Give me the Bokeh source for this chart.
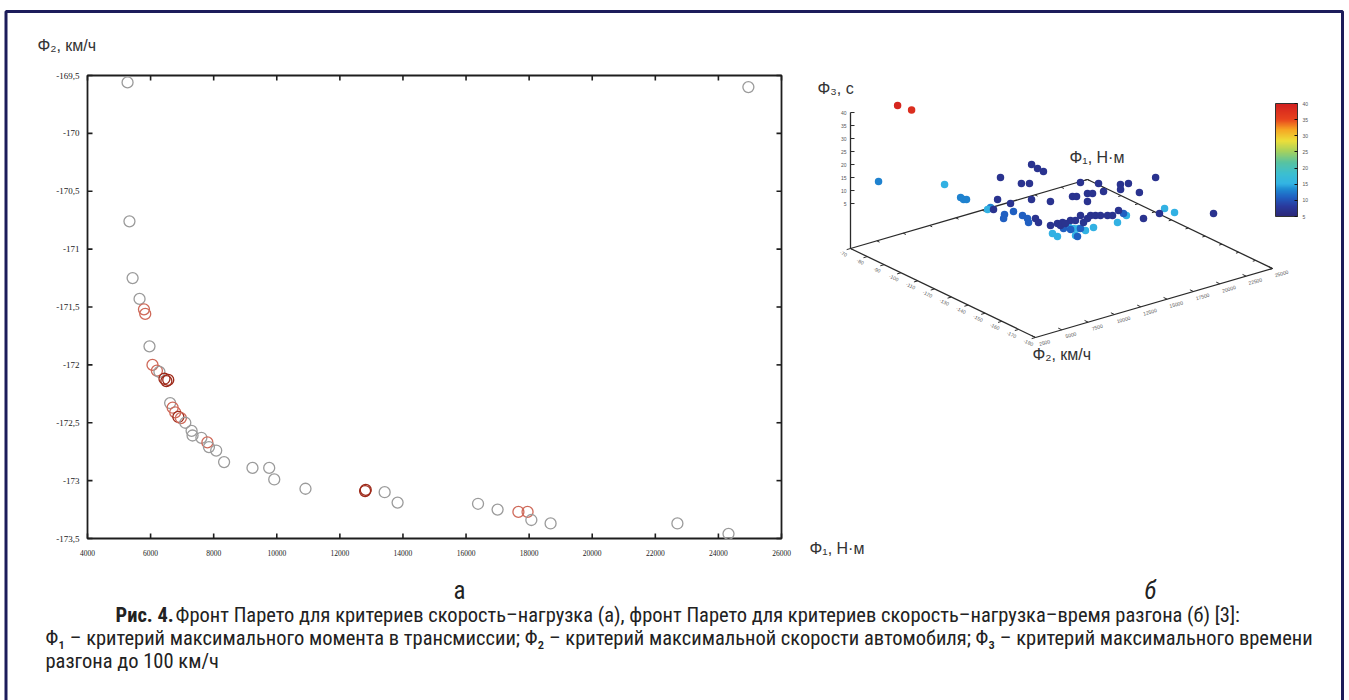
import numpy as np
from bokeh.plotting import figure
from bokeh.models import Range1d, LinearColorMapper, ColorBar, FixedTicker, ColumnDataSource
from bokeh.core.properties import value
from bokeh.embed import file_html
from bokeh.resources import INLINE

W, H = 1349, 700
SANS = "Liberation Sans"
NARROW = "Liberation Sans Narrow, Roboto Condensed, Roboto"
SERIF = "Liberation Serif"

# ---------------- panel (a): Pareto front speed-load ----------------
a_phi1 = [5270, 24950, 5330, 5430, 5650, 5790, 5830, 5965, 6060, 6200, 6280,
          6440, 6500, 6560, 6620, 6700, 6780, 6880, 6960, 7100, 7300, 7330,
          7610, 7800, 7850, 8080, 8330, 9230, 9760, 9920, 10910, 12800, 12820,
          13420, 13830, 16380, 17000, 17660, 17950, 18070, 18680, 22700, 24320]
a_phi2 = [-169.56, -169.60, -170.76, -171.25, -171.43, -171.52, -171.56, -171.84,
          -172.00, -172.05, -172.06, -172.12, -172.14, -172.13, -172.33, -172.37,
          -172.41, -172.45, -172.46, -172.50, -172.57, -172.61, -172.63, -172.67,
          -172.71, -172.74, -172.84, -172.89, -172.89, -172.99, -173.07, -173.09,
          -173.08, -173.10, -173.19, -173.20, -173.25, -173.27, -173.27, -173.34,
          -173.37, -173.37, -173.46]
a_tone = ["g", "g", "g", "g", "g", "r", "r", "g", "r", "r", "g",
          "d", "d", "d", "g", "r", "r", "d", "r", "g", "g", "g",
          "g", "r", "g", "g", "g", "g", "g", "g", "g", "d", "d",
          "g", "g", "g", "g", "r", "r", "g", "g", "g", "g"]
a_xticks = [4000, 6000, 8000, 10000, 12000, 14000, 16000, 18000, 20000, 22000, 24000, 26000]
a_xlabels = ["4000", "6000", "8000", "10000", "12000", "14000", "16000", "18000",
             "20000", "22000", "24000", "26000"]
a_yticks = [-169.5, -170, -170.5, -171, -171.5, -172, -172.5, -173, -173.5]
a_ylabels = ["-169,5", "-170", "-170,5", "-171", "-171,5", "-172", "-172,5", "-173", "-173,5"]

# ---------------- panel (b): 3-criteria Pareto front ----------------
b_phi1 = [6460, 7070,
          4300, 7190, 7120, 7300, 7730,
          6670, 7200, 7560, 7490, 9710, 9370, 9420, 8680, 10720, 12760, 14150, 17260, 17360, 9880,
          8340, 7790, 9240, 9280, 9210, 8770, 10110, 10400, 9950, 15500, 11110,
          9580, 11050, 13930, 11320, 14430, 14910, 17360, 17220, 17210, 13060, 10960, 10640,
          13930, 10980, 11640, 12060, 18040, 15850, 16090, 13300, 14030, 17110, 18990, 17400,
          16120, 18300, 20160, 20760, 19550, 20300, 23100, 16850, 13990, 14580, 14870, 15170,
          15580, 15880, 12780, 13080, 11580, 12120, 17350, 18900, 22100]
b_phi2 = [-73.2, -77.7,
          -75.4, -106.1, -108.3, -108.9, -120.5,
          -125.4, -96.5, -158.4, -161.8, -160.4, -156.6, -159.3, -165.1, -163.0, -164.5, -161.1, -164.3, -169.6, -163.5,
          -125.0, -127.9, -124.7, -129.8, -133.2, -136.6, -149.0, -151.4, -158.3, -150.9, -152.8,
          -110.7, -103.9, -87.6, -109.9, -96.9, -98.7, -84.6, -89.0, -92.6, -111.5, -127.0, -130.8,
          -117.3, -135.8, -135.8, -136.2, -109.4, -118.4, -119.3, -140.9, -138.7, -119.4, -114.2, -120.6,
          -125.6, -121.5, -119.9, -120.9, -123.8, -130.3, -122.4, -139.5, -134.8, -137.1, -138.2, -139.3,
          -140.9, -142.0, -136.4, -137.5, -138.0, -137.6, -151.2, -151.0, -163.1]
b_phi3 = [39, 38,
          13, 13, 13, 13, 13,
          15, 15, 15, 15, 15, 15, 15, 15, 15, 15, 15, 15, 15, 15,
          11, 11, 11, 11, 11, 11, 11, 11, 11, 11, 11,
          7, 7, 7, 7, 7, 7, 7, 7, 7, 7, 7, 7,
          7, 7, 7, 7, 7, 7, 7, 7, 7, 7, 7, 7,
          7, 7, 7, 7, 7, 7, 7, 7, 7, 7, 7, 7,
          7, 7, 7, 7, 7, 7, 7, 7, 7]
b_phi1_ticks = [2500, 5000, 7500, 10000, 12500, 15000, 17500, 20000, 22500, 25000]
b_phi2_ticks = [-70, -80, -90, -100, -110, -120, -130, -140, -150, -160, -170, -180]
b_phi3_ticks = [5, 10, 15, 20, 25, 30, 35, 40]
cbar_ticks = [5, 10, 15, 20, 25, 30, 35, 40]

caption_bold = "Рис. 4."
caption_1 = "Фронт Парето для критериев скорость–нагрузка (а), фронт Парето для критериев скорость–нагрузка–время разгона (б) [3]:"
caption_2 = "Φ₁ – критерий максимального момента в трансмиссии; Φ₂ – критерий максимальной скорости автомобиля; Φ₃ – критерий максимального времени"
caption_3 = "разгона до 100 км/ч"

# ---------------- figure (pixel canvas) ----------------
p = figure(width=W, height=H, x_range=Range1d(0, W), y_range=Range1d(H, 0),
           output_backend="svg", toolbar_location=None, min_border=0,
           x_axis_location=None, y_axis_location=None)
p.grid.visible = False
p.outline_line_color = None
p.background_fill_color = "white"
p.border_fill_color = "white"

# page frame
p.quad(left=[5.5], right=[1342], top=[11], bottom=[720], fill_color=None,
       line_color="#1d1d5b", line_width=3)

# ---------------- panel (a) ----------------
AL, AR, AT, AB = 87, 781, 75, 538
X0, X1 = a_xticks[0], a_xticks[-1]
Y0, Y1 = a_yticks[-1], a_yticks[0]
kx = (X1 - X0) / (AR - AL)
ky = (Y1 - Y0) / (AB - AT)
p.extra_x_ranges = {"a": Range1d(X0 - AL * kx, X0 + (W - AL) * kx)}
p.extra_y_ranges = {"a": Range1d(Y0 - (H - AB) * ky, Y1 + AT * ky)}
RA = dict(x_range_name="a", y_range_name="a")

p.quad(left=[X0], right=[X1], bottom=[Y0], top=[Y1], fill_color=None,
       line_color="#1e1e1e", line_width=1.8, **RA)
tl = 5
nx, ny = len(a_xticks), len(a_yticks)
p.segment(x0=a_xticks, x1=a_xticks, y0=[Y0] * nx, y1=[Y0 + tl * ky] * nx,
          line_color="#1e1e1e", line_width=1.6, **RA)
p.segment(x0=a_xticks, x1=a_xticks, y0=[Y1] * nx, y1=[Y1 - tl * ky] * nx,
          line_color="#1e1e1e", line_width=1.6, **RA)
p.segment(x0=[X0] * ny, x1=[X0 + tl * kx] * ny, y0=a_yticks, y1=a_yticks,
          line_color="#1e1e1e", line_width=1.6, **RA)
p.segment(x0=[X1] * ny, x1=[X1 - tl * kx] * ny, y0=a_yticks, y1=a_yticks,
          line_color="#1e1e1e", line_width=1.6, **RA)
p.text(x=a_xticks, y=[Y0] * nx, text=a_xlabels, y_offset=11,
       text_align="center", text_baseline="top", text_font=value(SERIF),
       text_font_size="7.5px", text_color="#1a1a1a", **RA)
p.text(x=[X0] * ny, y=a_yticks, text=a_ylabels, x_offset=-8,
       text_align="right", text_baseline="middle", text_font=value(SERIF),
       text_font_size="9px", text_color="#1a1a1a", **RA)

tone_color = {"g": "#9b9b9b", "r": "#cf6a5a", "d": "#9e2a1a"}
p.scatter(x=a_phi1, y=a_phi2, marker="circle", size=11, fill_color=None,
          line_color=[tone_color[t] for t in a_tone], line_width=1.3, **RA)

p.text(x=[37], y=[45], text=["Φ₂, км/ч"], text_font=value(SANS), text_font_size="16px",
       text_color="#333333", text_baseline="middle")
p.text(x=[809], y=[548], text=["Φ₁, Н·м"], text_font=value(SANS), text_font_size="16px",
       text_color="#333333", text_baseline="middle")
p.text(x=[459], y=[590], text=["а"], text_font=value(NARROW), text_font_size="25px",
       text_color="#222222", text_baseline="middle", text_align="center")
p.text(x=[1150], y=[590], text=["б"], text_font=value(NARROW), text_font_size="25px",
       text_color="#222222", text_baseline="middle", text_align="center",
       text_font_style="italic")

# ---------------- panel (b): oblique 3D projection ----------------
PA = np.array([850.0, 248.0])
PB = np.array([1035.0, 337.0])
PC = np.array([1272.0, 268.0])
ZPX = 2.6
ZF = -12.3
P1a, P1b = b_phi1_ticks[0], b_phi1_ticks[-1]
P2a, P2b = b_phi2_ticks[0], b_phi2_ticks[-1]
U = PB - PA
V = PC - PB


def proj(f1, f2, f3):
    f1 = np.asarray(f1, float); f2 = np.asarray(f2, float); f3 = np.asarray(f3, float)
    a = (f2 - P2a) / (P2b - P2a)
    b = (f1 - P1a) / (P1b - P1a)
    sx = PA[0] + a * U[0] + b * V[0]
    sy = PA[1] + a * U[1] + b * V[1] - (f3 - ZF) * ZPX
    return sx, sy


cx, cy = proj([P1a, P1a, P1b, P1b], [P2a, P2b, P2b, P2a], [ZF] * 4)
ex0 = [cx[0], cx[1], cx[0], cx[3]]
ey0 = [cy[0], cy[1], cy[0], cy[3]]
ex1 = [cx[1], cx[2], cx[3], cx[2]]
ey1 = [cy[1], cy[2], cy[3], cy[2]]
p.segment(x0=ex0, y0=ey0, x1=ex1, y1=ey1, line_color="#2a2a2a", line_width=1.3)
ztx, zty = proj([P1a, P1a], [P2a, P2a], [ZF, b_phi3_ticks[-1]])
p.segment(x0=[ztx[0]], y0=[zty[0]], x1=[ztx[1]], y1=[zty[1]], line_color="#2a2a2a", line_width=1.3)

uu = U / np.linalg.norm(U)
vu = V / np.linalg.norm(V)
n2, n1, n3 = len(b_phi2_ticks), len(b_phi1_ticks), len(b_phi3_ticks)
t2x, t2y = proj([P1a] * n2, b_phi2_ticks, [ZF] * n2)
p.segment(x0=t2x, y0=t2y, x1=t2x - 4 * vu[0], y1=t2y - 4 * vu[1], line_color="#2a2a2a", line_width=1)
p.text(x=t2x - 7, y=t2y + 5, text=[str(t) for t in b_phi2_ticks], text_font=value(SANS),
       text_font_size="5px", text_color="#555555", text_align="center", text_baseline="middle",
       angle=-0.45)
t2bx, t2by = proj([P1b] * n2, b_phi2_ticks, [ZF] * n2)
p.segment(x0=t2bx, y0=t2by, x1=t2bx - 3 * vu[0], y1=t2by - 3 * vu[1], line_color="#2a2a2a", line_width=1)
t1x, t1y = proj(b_phi1_ticks, [P2b] * n1, [ZF] * n1)
p.segment(x0=t1x, y0=t1y, x1=t1x - 4 * uu[0], y1=t1y - 4 * uu[1], line_color="#2a2a2a", line_width=1)
p.text(x=t1x + 9, y=t1y + 5, text=[str(t) for t in b_phi1_ticks], text_font=value(SANS),
       text_font_size="5px", text_color="#555555", text_align="center", text_baseline="middle",
       angle=0.28)
t1bx, t1by = proj(b_phi1_ticks, [P2a] * n1, [ZF] * n1)
p.segment(x0=t1bx, y0=t1by, x1=t1bx + 3 * uu[0], y1=t1by + 3 * uu[1], line_color="#2a2a2a", line_width=1)
t3x, t3y = proj([P1a] * n3, [P2a] * n3, b_phi3_ticks)
p.segment(x0=t3x, y0=t3y, x1=t3x + 4, y1=t3y, line_color="#2a2a2a", line_width=1)
p.text(x=t3x - 4, y=t3y, text=[str(t) for t in b_phi3_ticks], text_font=value(SANS),
       text_font_size="5px", text_color="#555555", text_align="right", text_baseline="middle")

anchors = [(0.0, "#2b2878"), (0.09, "#2a3a9e"), (0.17, "#2060c2"), (0.24, "#1f8ad2"),
           (0.29, "#33b4e4"), (0.38, "#3cbfd0"), (0.48, "#58c3a0"), (0.58, "#a8d25c"),
           (0.67, "#ecdf3a"), (0.77, "#f6a623"), (0.86, "#e8441e"), (1.0, "#d21f1f")]
pos = np.array([a[0] for a in anchors])
rgb = np.array([[int(c[i:i + 2], 16) for i in (1, 3, 5)] for _, c in anchors], float)
tt = np.linspace(0, 1, 256)
palette = ["#%02x%02x%02x" % tuple(int(round(np.interp(t, pos, rgb[:, k]))) for k in range(3)) for t in tt]
mapper = LinearColorMapper(palette=palette, low=cbar_ticks[0], high=cbar_ticks[-1])

sx, sy = proj(b_phi1, b_phi2, b_phi3)
src_b = ColumnDataSource(data=dict(x=sx, y=sy, c=b_phi3))
p.scatter(x="x", y="y", marker="circle", size=7.5, line_color=None,
          fill_color={"field": "c", "transform": mapper}, source=src_b)

cb = ColorBar(color_mapper=mapper, location=(1275, H - 216), width=22, height=113,
              padding=0, ticker=FixedTicker(ticks=cbar_ticks), title=None,
              major_label_text_font_size="5px", major_label_text_color="#555555",
              major_tick_line_color="#111111", major_tick_in=3, major_tick_out=0,
              label_standoff=5, bar_line_color="#333333", border_line_color=None,
              background_fill_alpha=0)
p.add_layout(cb)

p.text(x=[817], y=[88], text=["Φ₃, с"], text_font=value(SANS), text_font_size="16px",
       text_color="#333333", text_baseline="middle")
p.text(x=[1069], y=[157], text=["Φ₁, Н·м"], text_font=value(SANS), text_font_size="16px",
       text_color="#333333", text_baseline="middle")
p.text(x=[1032], y=[354], text=["Φ₂, км/ч"], text_font=value(SANS), text_font_size="16px",
       text_color="#333333", text_baseline="middle")

# ---------------- caption ----------------
CF = "20.5px"
p.text(x=[115], y=[614], text=[caption_bold], text_font=value(NARROW), text_font_size=CF,
       text_font_style="bold", text_color="#222222", text_baseline="middle")
p.text(x=[175], y=[614], text=[caption_1], text_font=value(NARROW), text_font_size=CF,
       text_color="#222222", text_baseline="middle")
p.text(x=[45], y=[637], text=[caption_2], text_font=value(NARROW), text_font_size=CF,
       text_color="#222222", text_baseline="middle")
p.text(x=[45], y=[660], text=[caption_3], text_font=value(NARROW), text_font_size=CF,
       text_color="#222222", text_baseline="middle")

open("out.html", "w").write(file_html(p, INLINE))
